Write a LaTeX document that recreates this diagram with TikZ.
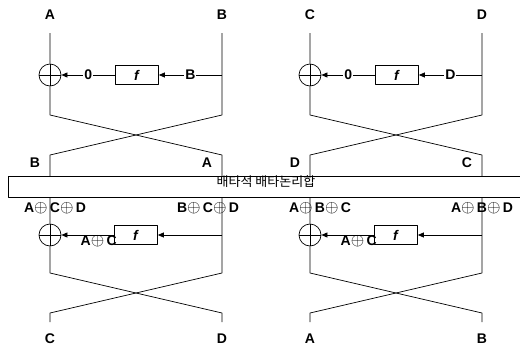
\documentclass[tikz,border=0pt]{standalone}
\usepackage{fontspec}
\setmainfont{Liberation Sans}
\newfontfamily\krfont{Noto Sans CJK KR}
\newcommand\xo{{\fontsize{17}{17}\selectfont$\oplus$}}
\usetikzlibrary{arrows.meta}

\begin{document}
\begin{tikzpicture}[x=1pt, y=-1pt, >={Triangle[length=6pt,width=5pt]}, line width=0.7pt, line join=round,
	font=\bfseries\fontsize{14}{16}\selectfont,
	xor/.style={circle, draw, minimum size=22pt, inner sep=0pt,
		path picture={\draw (path picture bounding box.west) -- (path picture bounding box.east)
			(path picture bounding box.north) -- (path picture bounding box.south);}},
	fbox/.style={draw, minimum width=43pt, minimum height=19pt, inner sep=0pt},
	onwire/.style={fill=white, inner sep=1pt}]
	\useasboundingbox (0,0) rectangle (520,351);
	
	% band shared by both halves
	\node[draw, anchor=north west, minimum width=514pt, minimum height=21pt, inner sep=0pt] (band) at (8,176) {};
	\node[font=\krfont\fontsize{13}{15}\selectfont] (bandtext) at (266,182) {배타적 배타논리합};
	
	\foreach \u/\dx/\ta/\tb/\oa/\xa/\ob/\xb/\ba/\bb in {
		L/0/A/B/{A\xo\,C\xo\,D}/55/{B\xo\,C\xo\,D}/208/C/D,
		R/260/C/D/{A\xo\,B\xo\,C}/60/{A\xo\,B\xo\,D}/222/A/B} {
		% upper round
		\node (inA\u) at (50+\dx,15) {\ta};
		\node (inB\u) at (222+\dx,15) {\tb};
		\coordinate (ta\u) at (50+\dx,33);
		\coordinate (tb\u) at (222+\dx,33);
		\node[xor] (xa\u) at (50+\dx,75) {};
		\node[fbox] (fa\u) at (137+\dx,75) {\textit{f}};
		\coordinate (ra\u) at (222+\dx,75);
		\coordinate (pa\u) at (50+\dx,115);
		\coordinate (qa\u) at (222+\dx,115);
		\coordinate (pb\u) at (50+\dx,155);
		\coordinate (qb\u) at (222+\dx,155);
		
		\draw (ta\u) -- (xa\u) -- (pa\u) -- (qb\u) -- (qb\u |- band.north);
		\draw (tb\u) -- (qa\u) -- (pb\u) -- (pb\u |- band.north);
		\draw[->] (ra\u) -- (fa\u) node[onwire, midway] {\tb};
		\draw[->] (fa\u) -- (xa\u) node[onwire, midway] {0};
		
		\node (mB\u) at (35+\dx,163) {\tb};
		\node (mA\u) at (207+\dx,163) {\ta};
		
		% lower round
		\coordinate (ua\u) at (band.south -| pa\u);
		\coordinate (ub\u) at (band.south -| qa\u);
		\node (oA\u) at (\xa+\dx,208) {\oa};
		\node (oB\u) at (\xb+\dx,208) {\ob};
		\node[xor] (xb\u) at (50+\dx,235) {};
		\node[anchor=east, inner sep=0pt] (sum\u) at (117+\dx,241) {A\xo\,C};
		\node[fbox] (fb\u) at (136+\dx,235) {\textit{f}};
		\coordinate (rb\u) at (222+\dx,235);
		\coordinate (pc\u) at (50+\dx,273);
		\coordinate (qc\u) at (222+\dx,273);
		\coordinate (pd\u) at (50+\dx,313);
		\coordinate (qd\u) at (222+\dx,313);
		\coordinate (pe\u) at (50+\dx,322);
		\coordinate (qe\u) at (222+\dx,322);
		
		\draw (ua\u) -- (xb\u) -- (pc\u) -- (qd\u) -- (qe\u);
		\draw (ub\u) -- (qc\u) -- (pd\u) -- (pe\u);
		\draw[->] (rb\u) -- (fb\u);
		\draw[->] (fb\u) -- (xb\u);
		
		\node (outA\u) at (50+\dx,339) {\ba};
		\node (outB\u) at (222+\dx,339) {\bb};
	}
\end{tikzpicture}
\end{document}
